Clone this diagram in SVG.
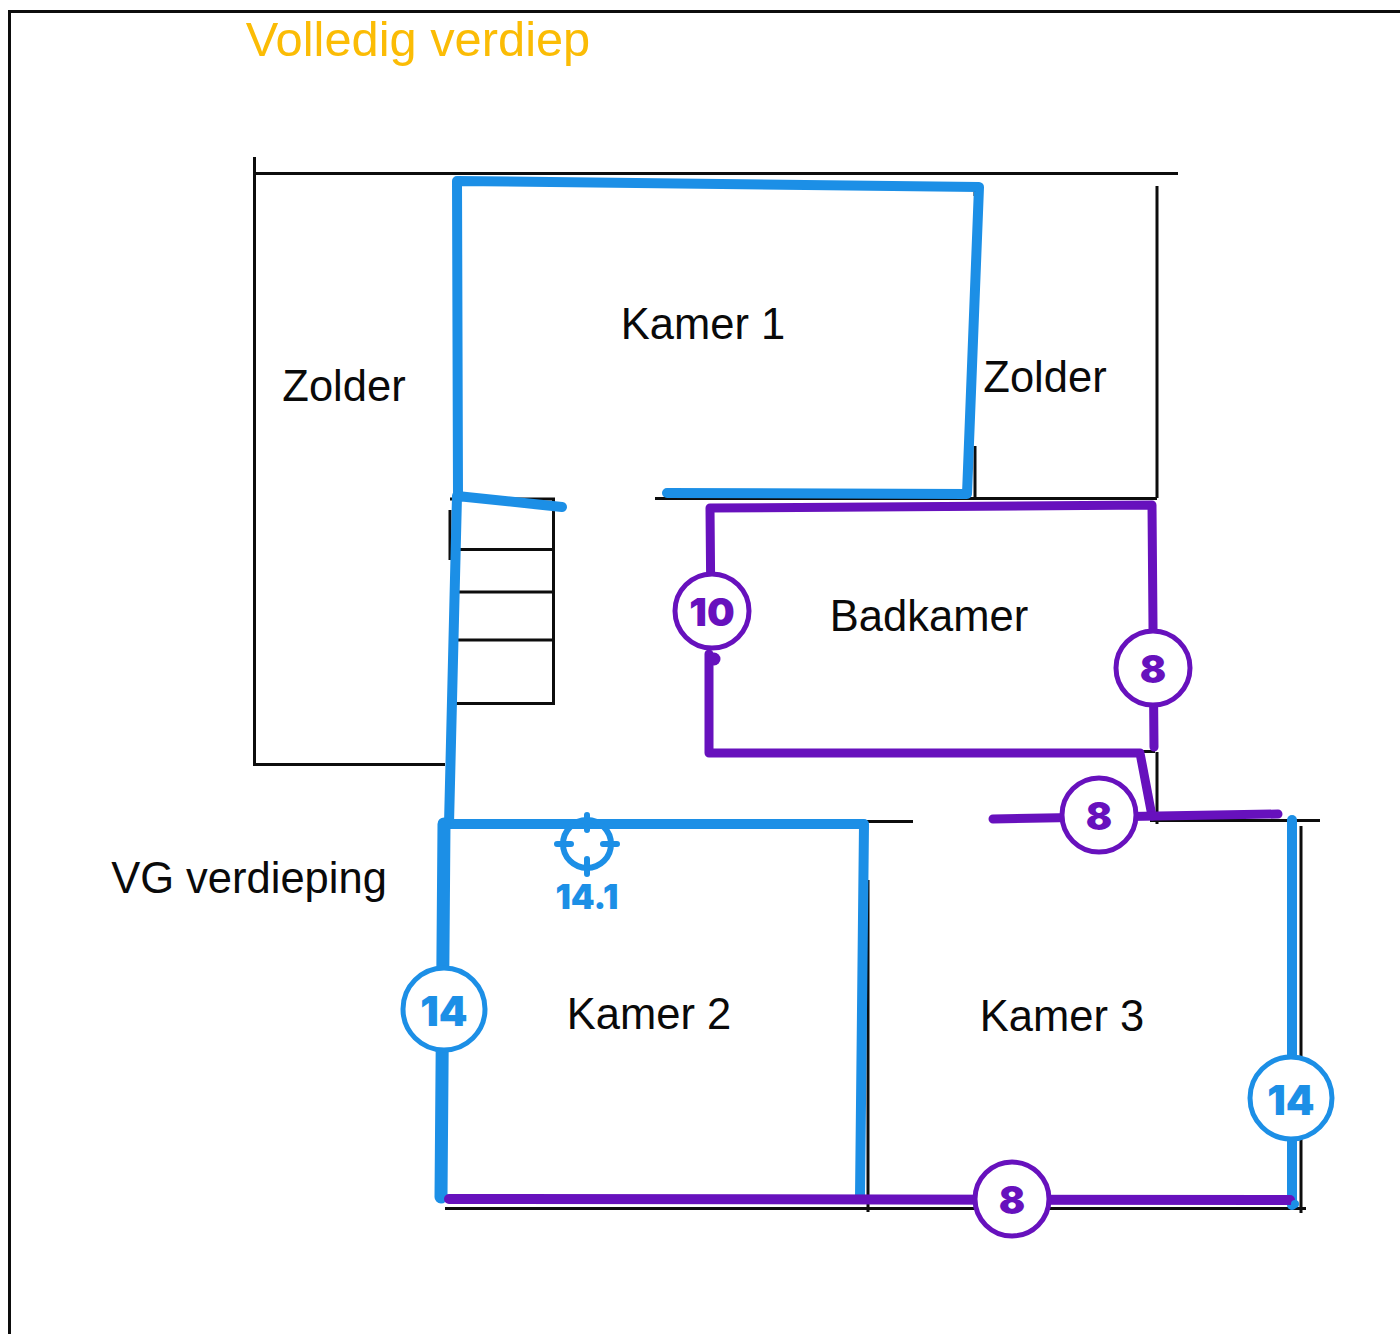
<svg xmlns="http://www.w3.org/2000/svg" width="1400" height="1334" viewBox="0 0 1400 1334">
<style>
.plan{fill:none;stroke:#0d0d0d;stroke-width:3}
.blue{fill:none;stroke:#1c8fe6;stroke-linecap:round;stroke-linejoin:round;stroke-width:10}
.purple{fill:none;stroke:#6711bd;stroke-linecap:round;stroke-linejoin:round;stroke-width:9}
.room{font-family:"Liberation Sans",Arial,sans-serif;font-size:43.500px;fill:#0a0a0a;text-anchor:middle}
.badge{fill:#fff;stroke-width:5}
.num{font-family:Inter,"Liberation Sans",sans-serif;font-weight:900;text-anchor:middle}
</style>
<rect width="1400" height="1334" fill="#fff"/>
<g id="frame"><path class="plan" d="M9.500 1334V11.500H1400"/></g>
<text id="title" x="418" y="56" font-family="'Liberation Sans',Arial,sans-serif" font-size="48.800" fill="#fbbc05" text-anchor="middle">Volledig verdiep</text>
<g id="floorplan">
<path class="plan" d="M254.500 157V764.500H445M254 173.500H1178M1157 186V498M1157 752V824M975 182V196M975 446V498M655 498.500H1157M450 499H553.500V703.500H456M458 549.500H553M458 592H553M456 640H553M450 510V560"/>
<path class="plan" d="M812 821.500H913M1150 820.500H1320M1301 826V1213M868 880V1212M445 1208.500H1306M1139 751.500H1155"/>
</g>
<g id="connectors">
<path class="blue" d="M458 496 457 181 979 187 967 494 667 493"/>
<path class="blue" d="M562 507 457 496 449 824"/>
<path class="blue" d="M444 824H864L860 1197"/>
<path class="blue" style="stroke-width:13" d="M444 824 441 1197"/>
<path class="blue" d="M1292 820V1205"/>
<path class="purple" d="M711 620 710 508 1152 505 1154 747"/>
<path class="purple" d="M709 654 709 753 1140 753 1152 816"/>
<circle cx="714" cy="659" r="6.500" fill="#6711bd"/>
<path class="purple" d="M993 819 1278 814"/>
<path class="purple" d="M449 1199 1290 1200" style="stroke-width:10"/>
<circle cx="1295" cy="1204" r="4" fill="#1c8fe6"/>
</g>
<g id="target-14-1" fill="none" stroke="#1c8fe6" stroke-width="6" stroke-linecap="round">
<circle cx="587" cy="844" r="24"/>
<path d="M587 815V830M587 859V874M557 844H571M603 844H617"/>
<text x="587" y="909" class="num" font-size="34" fill="#1c8fe6" stroke="none">14.1</text>
</g>
<g id="badge-14-left"><circle class="badge" cx="444" cy="1009" r="41" stroke="#1c8fe6"/><text x="444" y="1026" class="num" font-size="41" fill="#1c8fe6">14</text></g>
<g id="badge-14-right"><circle class="badge" cx="1291" cy="1098" r="41" stroke="#1c8fe6"/><text x="1291" y="1115" class="num" font-size="41" fill="#1c8fe6">14</text></g>
<g id="badge-10"><circle class="badge" cx="712" cy="611" r="37" stroke="#6711bd"/><text x="712" y="626" class="num" font-size="39" fill="#6711bd">10</text></g>
<g id="badge-8-a"><circle class="badge" cx="1153" cy="668" r="37" stroke="#6711bd"/><text x="1153" y="683" class="num" font-size="39" fill="#6711bd">8</text></g>
<g id="badge-8-b"><circle class="badge" cx="1099" cy="815" r="37" stroke="#6711bd"/><text x="1099" y="830" class="num" font-size="39" fill="#6711bd">8</text></g>
<g id="badge-8-c"><circle class="badge" cx="1012" cy="1199" r="37" stroke="#6711bd"/><text x="1012" y="1214" class="num" font-size="39" fill="#6711bd">8</text></g>
<g id="labels">
<text class="room" x="703" y="339">Kamer 1</text>
<text class="room" x="344" y="401">Zolder</text>
<text class="room" x="1045" y="392">Zolder</text>
<text class="room" x="929" y="631">Badkamer</text>
<text class="room" x="249" y="893">VG verdieping</text>
<text class="room" x="649" y="1029">Kamer 2</text>
<text class="room" x="1062" y="1031">Kamer 3</text>
</g>
</svg>
